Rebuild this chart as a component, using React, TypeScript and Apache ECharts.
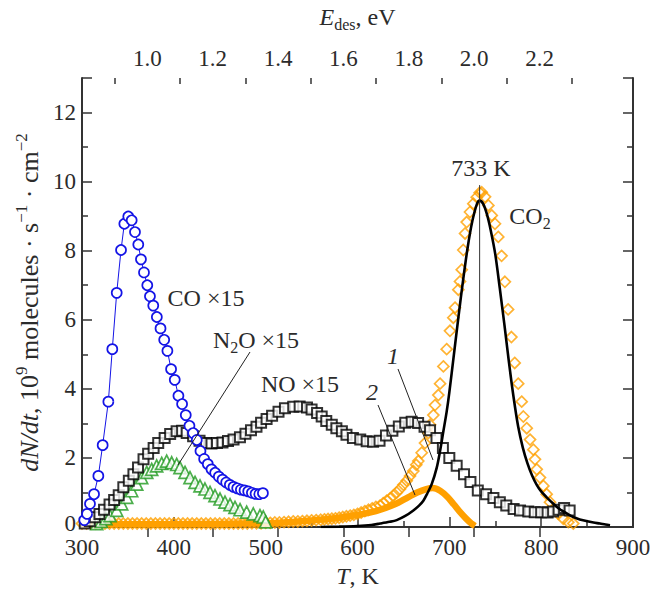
import React, { useEffect, useRef } from "react";
import * as echarts from "echarts";

// ---- data (T in K, values in 10^9 molecules s^-1 cm^-2) ----
const CO_T = [302.5, 305.5, 308.7, 313.1, 317.8, 322.5, 328.7, 333.0, 337.8, 342.5, 346.1, 350.4, 354.1, 357.7, 361.3, 364.2, 367.5, 371.1, 374.0, 377.6, 381.5, 385.5, 389.5, 393.0, 397.0, 401.0, 405.0, 409.0, 413.0, 417.0, 421.0, 425.0, 429.0, 433.0, 437.0, 441.0, 445.0, 449.0, 453.0, 457.0, 461.0, 465.0, 469.0, 473.0, 477.0, 481.0, 485.0, 489.0, 493.0, 497.0];
const CO_V = [0.2, 0.38, 0.67, 0.95, 1.48, 2.37, 3.63, 5.15, 6.78, 8.02, 8.78, 8.99, 8.88, 8.54, 8.18, 7.75, 7.37, 7.0, 6.68, 6.41, 6.08, 5.75, 5.42, 5.1, 4.57, 4.26, 3.8, 3.56, 3.24, 2.93, 2.72, 2.52, 2.2, 1.97, 1.82, 1.67, 1.57, 1.46, 1.37, 1.29, 1.22, 1.16, 1.12, 1.08, 1.06, 1.03, 0.99, 0.96, 0.95, 0.98];

const NO_T = [303, 308.5, 314, 319, 324, 330, 335, 340, 345, 351, 356, 361, 367, 372, 378, 383, 390, 396, 403, 409, 414, 421, 428, 435, 441, 447, 453, 459, 465, 472, 478, 484, 490, 495, 501, 507, 514, 521, 530, 537, 545, 550, 556, 561, 566, 572, 577, 583, 588, 595, 603, 610, 617, 624, 631, 638, 645, 652, 659, 666, 673, 679, 686, 693, 700, 708, 716, 723, 731, 740, 748, 755, 762, 770, 777, 786, 793, 800, 807, 813, 819, 825, 831];
const NO_V = [0.1, 0.17, 0.28, 0.38, 0.5, 0.65, 0.78, 0.92, 1.15, 1.34, 1.53, 1.72, 1.96, 2.12, 2.29, 2.43, 2.58, 2.69, 2.77, 2.79, 2.72, 2.63, 2.5, 2.43, 2.42, 2.43, 2.45, 2.49, 2.53, 2.6, 2.7, 2.8, 2.9, 3.02, 3.13, 3.22, 3.34, 3.44, 3.48, 3.49, 3.46, 3.4, 3.3, 3.2, 3.07, 2.96, 2.86, 2.77, 2.67, 2.58, 2.53, 2.48, 2.47, 2.5, 2.65, 2.79, 2.91, 3.02, 3.05, 3.01, 2.9, 2.8, 2.58, 2.29, 2.0, 1.77, 1.53, 1.3, 1.06, 0.95, 0.84, 0.72, 0.62, 0.52, 0.48, 0.45, 0.43, 0.43, 0.42, 0.45, 0.5, 0.55, 0.48];

const N2O_T = [316, 321, 326, 330.5, 337.8, 343.2, 348.7, 354.1, 359.6, 365, 370.5, 375.9, 381.3, 386.8, 392.2, 397.7, 403.1, 406.7, 412.2, 417.6, 423.1, 428.5, 433.9, 439.4, 444.8, 450.3, 455.7, 461.2, 466.6, 472.1, 479.3, 486.5, 493.8, 497.4, 500];
const N2O_V = [0.1, 0.16, 0.24, 0.33, 0.48, 0.67, 0.86, 1.05, 1.24, 1.43, 1.58, 1.67, 1.77, 1.84, 1.91, 1.86, 1.81, 1.72, 1.58, 1.43, 1.29, 1.19, 1.1, 1.0, 0.91, 0.81, 0.72, 0.65, 0.57, 0.5, 0.43, 0.38, 0.33, 0.29, 0.15];

const CO2_T = [300, 305, 310, 315, 320, 325, 330, 335, 340, 345, 350, 355, 360, 365, 370, 375, 380, 385, 390, 395, 400, 405, 410, 415, 420, 425, 430, 435, 440, 445, 450, 455, 460, 465, 470, 475, 480, 485, 490, 495, 500, 505, 510, 515, 520, 525, 530, 535, 540, 545, 550, 555, 560, 564, 568, 572, 576, 580, 584, 588, 592, 596, 600, 604, 608, 612, 616, 620, 624.5, 628, 631.8, 635.5, 639, 642.7, 646.3, 650, 653.6, 657.2, 660.8, 664, 666.2, 669.9, 673.5, 677.1, 679, 682.6, 684.4, 688, 689.9, 693.5, 697.1, 700.7, 704.3, 706.2, 709.8, 711.6, 713.5, 715.2, 717.1, 718.9, 722.5, 726.1, 729.8, 733, 735.3, 738.9, 742.5, 746.2, 749.7, 753.3, 756.9, 760.5, 764, 767.6, 771.2, 775, 778.8, 780.6, 784.3, 787.9, 791.5, 793.3, 795.2, 798.7, 802.4, 806, 809.6, 813.3, 818.7, 824.1, 829.6, 835];
const CO2_V = [0.1, 0.1, 0.1, 0.1, 0.1, 0.1, 0.1, 0.1, 0.1, 0.1, 0.1, 0.1, 0.1, 0.1, 0.1, 0.1, 0.1, 0.1, 0.1, 0.1, 0.1, 0.1, 0.1, 0.1, 0.1, 0.1, 0.1, 0.1, 0.1, 0.1, 0.1, 0.1, 0.1, 0.1, 0.1, 0.1, 0.1, 0.11, 0.11, 0.11, 0.12, 0.12, 0.13, 0.13, 0.14, 0.15, 0.16, 0.16, 0.17, 0.18, 0.19, 0.2, 0.21, 0.22, 0.23, 0.24, 0.25, 0.27, 0.29, 0.31, 0.33, 0.35, 0.38, 0.42, 0.46, 0.5, 0.54, 0.58, 0.62, 0.69, 0.76, 0.83, 0.91, 1.0, 1.1, 1.22, 1.34, 1.48, 1.62, 1.8, 1.91, 2.15, 2.43, 2.72, 2.96, 3.24, 3.53, 3.82, 4.15, 4.65, 5.15, 5.68, 6.06, 6.35, 6.87, 7.11, 7.45, 8.02, 8.5, 8.83, 9.12, 9.36, 9.55, 9.68, 9.69, 9.56, 9.31, 9.02, 8.78, 8.4, 7.85, 7.1, 6.3, 5.5, 4.75, 4.15, 3.63, 3.2, 2.86, 2.53, 2.24, 1.96, 1.67, 1.43, 1.19, 0.95, 0.72, 0.52, 0.38, 0.24, 0.14, 0.1];

// curve 1 (black, calculated)
const C1_T = [560, 580, 600, 615, 624.5, 635, 642.7, 652, 660.8, 667, 671.7, 676, 680.8, 686.3, 689.9, 693.5, 697.1, 700, 705, 710, 715, 720, 725, 730, 733, 737, 741, 745, 750, 755, 760, 765, 770, 775, 780, 785, 790, 795, 800, 806, 813, 820, 828, 835, 842, 850, 857, 864, 870, 875];
const C1_V = [0.0, 0.01, 0.03, 0.06, 0.1, 0.15, 0.2, 0.32, 0.48, 0.62, 0.76, 0.97, 1.24, 1.72, 2.2, 2.77, 3.34, 3.9, 5.0, 6.1, 7.15, 8.1, 8.85, 9.35, 9.45, 9.35, 9.05, 8.6, 7.9, 6.9, 5.85, 4.75, 3.75, 2.9, 2.3, 1.85, 1.5, 1.23, 1.03, 0.86, 0.68, 0.52, 0.39, 0.29, 0.22, 0.17, 0.13, 0.1, 0.07, 0.05];

// curve 2 (orange, calculated)
const C2_T = [300, 350, 400, 450, 500, 525, 550, 575, 600, 620, 640, 655, 665, 675, 682, 690, 698, 705, 712, 718, 724, 728];
const C2_V = [0.08, 0.08, 0.08, 0.09, 0.11, 0.14, 0.19, 0.25, 0.35, 0.46, 0.65, 0.86, 1.0, 1.1, 1.13, 1.05, 0.87, 0.65, 0.42, 0.25, 0.1, 0.03];

const PEAK_T = 733;
const PEAK_LINE_V = [0, 9.9];

const Y_LABELS = [0, 2, 4, 6, 8, 10, 12];
const X_TICKS_TOP_MAJOR = [1.0, 1.2, 1.4, 1.6, 1.8, 2.0, 2.2];
const X_TICKS_TOP_MINOR = [0.9, 1.1, 1.3, 1.5, 1.7, 1.9, 2.1, 2.3];

const pairs = (t: number[], v: number[]) => t.map((x, i) => [x, v[i]]);

export default function App() {
  const ref = useRef<HTMLDivElement>(null);
  useEffect(() => {
    document.body.style.margin = "0";
    const chart = echarts.init(ref.current!, null, { renderer: "svg" });
    const FONT = "Liberation Serif";
    const TXT = "#2b2b2b";
    const AX = "#333";
    const FS = 23;
    const FA = 24;
    const BLUE = "#1414e6";
    const GREEN = "#1f9a1f";
    const ORANGE = "#ffa000";

    const rich = {
      n: { fontFamily: FONT, fontSize: FA, color: TXT, lineHeight: 30 },
      i: { fontFamily: FONT, fontSize: FA, color: TXT, fontStyle: "italic", lineHeight: 30 },
      sup: { fontFamily: FONT, fontSize: 16, color: TXT, verticalAlign: "top", lineHeight: 17 },
      sub: { fontFamily: FONT, fontSize: 16, color: TXT, verticalAlign: "bottom", lineHeight: 15 },
    };
    const richY = {
      n: { fontFamily: FONT, fontSize: 26, color: TXT, lineHeight: 32 },
      i: { fontFamily: FONT, fontSize: 26, color: TXT, fontStyle: "italic", lineHeight: 32 },
      sup: { fontFamily: FONT, fontSize: 17, color: TXT, verticalAlign: "top", lineHeight: 18 },
    };

    const yAxisCommon = {
      type: "value",
      min: 0,
      max: 13,
      interval: 2,
      axisLine: { show: true, lineStyle: { color: AX, width: 2 } },
      axisTick: { show: true, inside: true, length: 10, lineStyle: { color: AX, width: 1.5 } },
      minorTick: { show: true, splitNumber: 2, length: 6, lineStyle: { color: AX, width: 1.5 } },
      splitLine: { show: false },
      minorSplitLine: { show: false },
    };

    const option: any = {
      animation: false,
      backgroundColor: "#fff",
      grid: { left: 82, right: 22, top: 76, bottom: 63, containLabel: false },
      xAxis: [
        {
          type: "value",
          position: "bottom",
          min: 300,
          max: 900,
          interval: 100,
          name: "{i|T}{n|, K}",
          nameLocation: "middle",
          nameGap: 34,
          nameTextStyle: { rich },
          axisLine: { show: true, lineStyle: { color: AX, width: 2 } },
          axisTick: { show: true, inside: true, length: 10, lineStyle: { color: AX, width: 1.5 } },
          minorTick: { show: true, splitNumber: 2, length: 6, lineStyle: { color: AX, width: 1.5 } },
          axisLabel: { color: TXT, fontFamily: FONT, fontSize: FS, margin: 11, lineHeight: 18 },
          splitLine: { show: false },
        },
        {
          type: "value",
          position: "top",
          min: 0.8,
          max: 2.486,
          name: "{i|E}{sub|des}{n|, eV}",
          nameLocation: "middle",
          nameGap: 46,
          nameTextStyle: { rich },
          axisLine: { show: true, lineStyle: { color: AX, width: 2 } },
          axisTick: { show: true, inside: true, length: 10, customValues: X_TICKS_TOP_MAJOR, lineStyle: { color: AX, width: 1.5 } },
          axisLabel: {
            color: TXT,
            fontFamily: FONT,
            fontSize: FS,
            margin: 8,
            customValues: X_TICKS_TOP_MAJOR,
            formatter: (v: number) => v.toFixed(1),
          },
          splitLine: { show: false },
        },
        {
          type: "value",
          position: "top",
          min: 0.8,
          max: 2.486,
          axisLine: { show: false },
          axisTick: { show: true, inside: true, length: 6, customValues: X_TICKS_TOP_MINOR, lineStyle: { color: AX, width: 1.5 } },
          axisLabel: { show: false },
          splitLine: { show: false },
        },
      ],
      yAxis: [
        {
          ...yAxisCommon,
          position: "left",
          name: "{i|dN/dt}{n|, 10}{sup|9}{n| molecules · s}{sup|−1}{n| · cm}{sup|−2}",
          nameLocation: "middle",
          nameGap: 36,
          nameRotate: 90,
          nameTextStyle: { rich: richY },
          axisLabel: {
            color: TXT,
            fontFamily: FONT,
            fontSize: FS,
            margin: 6,
            lineHeight: 18,
            customValues: Y_LABELS,
            formatter: (v: number) => (v === 0 ? "{z|0}" : String(v)),
            rich: { z: { fontFamily: FONT, fontSize: FS, color: TXT, lineHeight: 18, padding: [0, 0, 8, 0] } },
          },
        },
        {
          ...yAxisCommon,
          position: "right",
          axisLabel: { show: false },
        },
      ],
      series: [
        {
          name: "curve2",
          type: "line",
          data: pairs(C2_T, C2_V),
          showSymbol: false,
          smooth: 0.3,
          lineStyle: { color: ORANGE, width: 6.5 },
          z: 1,
        },
        {
          name: "CO2",
          type: "scatter",
          data: pairs(CO2_T, CO2_V),
          symbol: "diamond",
          symbolSize: 11,
          itemStyle: { color: "rgba(255,255,255,0)", borderColor: ORANGE, borderWidth: 1.7 },
          z: 2,
        },
        {
          name: "N2O",
          type: "scatter",
          data: pairs(N2O_T, N2O_V),
          symbol: "triangle",
          symbolSize: 12,
          itemStyle: { color: "#fff", borderColor: GREEN, borderWidth: 1.7 },
          z: 3,
        },
        {
          name: "NO",
          type: "scatter",
          data: pairs(NO_T, NO_V),
          symbol: "rect",
          symbolSize: 10,
          itemStyle: { color: "#fff", borderColor: "#000", borderWidth: 2 },
          z: 4,
        },
        {
          name: "CO",
          type: "line",
          data: pairs(CO_T, CO_V),
          symbol: "circle",
          symbolSize: 10,
          showAllSymbol: true,
          lineStyle: { color: BLUE, width: 1 },
          itemStyle: { color: "#fff", borderColor: BLUE, borderWidth: 1.7 },
          z: 5,
        },
        {
          name: "curve1",
          type: "line",
          data: pairs(C1_T, C1_V),
          showSymbol: false,
          smooth: 0.3,
          lineStyle: { color: "#000", width: 2.6 },
          z: 6,
        },
        {
          name: "peak",
          type: "line",
          data: PEAK_LINE_V.map((v) => [PEAK_T, v]),
          showSymbol: false,
          lineStyle: { color: "#333", width: 1 },
          z: 7,
        },
      ],
      graphic: [
        { type: "text", x: 206, y: 298, z: 100, style: { text: "CO ×15", fontFamily: FONT, fontSize: FA, fill: TXT, align: "center", verticalAlign: "middle" } },
        { type: "text", x: 256, y: 340, z: 100, style: { text: "{n|N}{sub|2}{n|O ×15}", rich, fill: TXT, align: "center", verticalAlign: "middle" } },
        { type: "text", x: 300, y: 384, z: 100, style: { text: "NO ×15", fontFamily: FONT, fontSize: FA, fill: TXT, align: "center", verticalAlign: "middle" } },
        { type: "text", x: 481, y: 168, z: 100, style: { text: "733 K", fontFamily: FONT, fontSize: FA, fill: TXT, align: "center", verticalAlign: "middle" } },
        { type: "text", x: 530, y: 216, z: 100, style: { text: "{n|CO}{sub|2}", rich, fill: TXT, align: "center", verticalAlign: "middle" } },
        { type: "text", x: 393, y: 356, z: 100, style: { text: "1", fontFamily: FONT, fontSize: FA, fontStyle: "italic", fill: TXT, align: "center", verticalAlign: "middle" } },
        { type: "text", x: 372, y: 392, z: 100, style: { text: "2", fontFamily: FONT, fontSize: FA, fontStyle: "italic", fill: TXT, align: "center", verticalAlign: "middle" } },
        { type: "line", z: 100, shape: { x1: 250, y1: 352, x2: 178, y2: 465 }, style: { stroke: "#222", lineWidth: 1 } },
        { type: "line", z: 100, shape: { x1: 398, y1: 369, x2: 433, y2: 460 }, style: { stroke: "#222", lineWidth: 1 } },
        { type: "line", z: 100, shape: { x1: 378, y1: 405, x2: 415, y2: 495 }, style: { stroke: "#222", lineWidth: 1 } },
      ],
    };
    chart.setOption(option);
    return () => chart.dispose();
  }, []);
  return <div ref={ref} style={{ width: 655, height: 593 }} />;
}
